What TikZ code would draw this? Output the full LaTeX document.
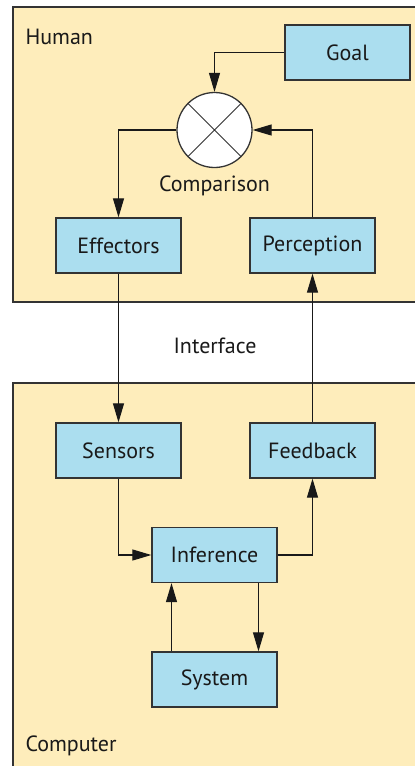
\documentclass[tikz,border=0pt]{standalone}
\usepackage{fontspec}
\setmainfont{PT Sans}
\usetikzlibrary{arrows.meta}
\definecolor{bg}{HTML}{FEEDBB}
\definecolor{boxc}{HTML}{ABDEEF}
\definecolor{edge}{HTML}{333333}
\begin{document}
\begin{tikzpicture}[x=1pt,y=-1pt,
  blk/.style={draw=edge,line width=1.3pt,fill=boxc,minimum width=125pt,minimum height=55pt,inner sep=0pt,font=\fontsize{22}{26}\selectfont,text=black!90},
  area/.style={draw=edge,line width=1.3pt,fill=bg},
  lbl/.style={font=\fontsize{22}{26}\selectfont,text=black!90},
  conn/.style={line width=1.1pt,draw=black!90,-{Triangle[length=19pt,width=11pt]}}]
\useasboundingbox (0,0) rectangle (415,766);
\clip (0,0) rectangle (415,766);
\fill[white] (0,0) rectangle (415,766);
\draw[area] (13,7) rectangle (430,302);
\draw[area] (13,383) rectangle (430,780);
\node[lbl,anchor=west] (human) at (22,37) {Human};
\node[lbl,anchor=west] (computer) at (22,746) {Computer};
\node[lbl] (interface) at (215,346) {Interface};
\node[blk] (goal) at (347.5,52.5) {Goal};
\node[draw=edge,line width=1.3pt,fill=white,circle,minimum size=75pt,inner sep=0pt] (cmp) at (214.5,130) {};
\draw[line width=1pt,edge] (cmp.45) -- (cmp.225) (cmp.135) -- (cmp.315);
\node[lbl] (cmplbl) at (214.5,186) {Comparison};
\node[blk] (eff) at (118.5,245.5) {Effectors};
\node[blk] (per) at (312.5,245.5) {Perception};
\node[blk] (sen) at (118.5,450.5) {Sensors};
\node[blk] (fb) at (312.5,450.5) {Feedback};
\node[blk] (inf) at (214.5,555) {Inference};
\node[blk] (sys) at (214.5,679.5) {System};
\draw[conn] (goal.west) -| (cmp.north);
\draw[conn] (cmp.west) -| (eff.north);
\draw[conn] (per.north) |- (cmp.east);
\draw[conn] (eff.south) -- (sen.north);
\draw[conn] (fb.north) -- (per.south);
\draw[conn] (sen.south) |- (inf.west);
\draw[conn] (inf.east) -| (fb.south);
\draw[conn] ([xshift=-43pt]sys.north) -- ([xshift=-43pt]inf.south);
\draw[conn] ([xshift=44pt]inf.south) -- ([xshift=44pt]sys.north);
\end{tikzpicture}
\end{document}
